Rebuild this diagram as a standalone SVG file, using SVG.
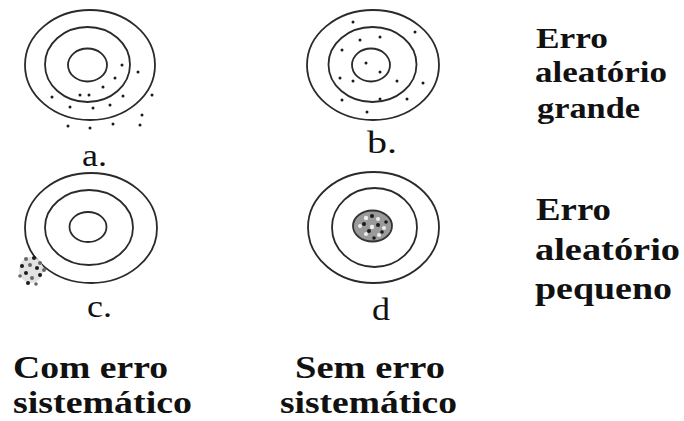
<svg xmlns="http://www.w3.org/2000/svg" width="684" height="421" viewBox="0 0 684 421">
<style>
.ring{fill:none;stroke:#2a2a2a;stroke-width:1.8}
.dot{fill:#1a1a1a}
.gdot{fill:#666}
.lab{font-family:"Liberation Serif","Times New Roman",serif;font-size:32px;fill:#111}
.big{font-family:"Liberation Serif","Times New Roman",serif;font-weight:bold;fill:#111}
</style>
<rect width="684" height="421" fill="#fff"/>
<g id="target-a">
<ellipse class="ring" cx="90" cy="65" rx="65" ry="55"/>
<ellipse class="ring" cx="87.5" cy="64.5" rx="42.5" ry="37.5"/>
<ellipse class="ring" cx="87.5" cy="65" rx="19.5" ry="16.5"/>
<g>
<circle class="dot" cx="122" cy="65" r="1.5"/>
<circle class="dot" cx="138" cy="72" r="1.5"/>
<circle class="dot" cx="115" cy="78" r="1.5"/>
<circle class="dot" cx="103" cy="87" r="1.5"/>
<circle class="dot" cx="52" cy="97" r="1.5"/>
<circle class="dot" cx="80" cy="95" r="1.5"/>
<circle class="dot" cx="89" cy="95" r="1.5"/>
<circle class="dot" cx="123" cy="96" r="1.5"/>
<circle class="dot" cx="152" cy="95" r="1.5"/>
<circle class="dot" cx="70" cy="107" r="1.5"/>
<circle class="dot" cx="93" cy="108" r="1.5"/>
<circle class="dot" cx="110" cy="105" r="1.5"/>
<circle class="dot" cx="142" cy="115" r="1.5"/>
<circle class="dot" cx="68" cy="126" r="1.5"/>
<circle class="dot" cx="90" cy="128" r="1.5"/>
<circle class="dot" cx="113" cy="124" r="1.5"/>
<circle class="dot" cx="140" cy="125" r="1.5"/>
</g>
<text class="lab" x="82" y="166" textLength="25" lengthAdjust="spacingAndGlyphs">a.</text>
</g>
<g id="target-b">
<ellipse class="ring" cx="373" cy="65" rx="66" ry="55"/>
<ellipse class="ring" cx="372.5" cy="64.5" rx="44" ry="37.5"/>
<ellipse class="ring" cx="371" cy="65" rx="19" ry="16.5"/>
<g>
<circle class="dot" cx="353" cy="22" r="1.5"/>
<circle class="dot" cx="415" cy="32" r="1.5"/>
<circle class="dot" cx="360" cy="40" r="1.5"/>
<circle class="dot" cx="380" cy="37" r="1.5"/>
<circle class="dot" cx="342" cy="50" r="1.5"/>
<circle class="dot" cx="366" cy="63" r="1.5"/>
<circle class="dot" cx="380" cy="72" r="1.5"/>
<circle class="dot" cx="340" cy="78" r="1.5"/>
<circle class="dot" cx="353" cy="81" r="1.5"/>
<circle class="dot" cx="397" cy="81" r="1.5"/>
<circle class="dot" cx="423" cy="83" r="1.5"/>
<circle class="dot" cx="342" cy="100" r="1.5"/>
<circle class="dot" cx="380" cy="99" r="1.5"/>
<circle class="dot" cx="407" cy="99" r="1.5"/>
<circle class="dot" cx="367" cy="112" r="1.5"/>
</g>
<text class="lab" x="367" y="153" textLength="30" lengthAdjust="spacingAndGlyphs">b.</text>
</g>
<g id="target-c">
<ellipse class="ring" cx="91" cy="228" rx="66" ry="55"/>
<ellipse class="ring" cx="89" cy="227.5" rx="44" ry="37.5"/>
<ellipse class="ring" cx="88" cy="227" rx="18.5" ry="15"/>
<g>
<ellipse cx="31" cy="270" rx="12" ry="13" fill="#e2e2e2"/>
<circle class="gdot" cx="26" cy="259" r="2"/>
<circle class="dot" cx="34" cy="258" r="2"/>
<circle class="gdot" cx="40" cy="263" r="2"/>
<circle class="dot" cx="22" cy="266" r="2"/>
<circle class="gdot" cx="30" cy="265" r="2"/>
<circle class="dot" cx="37" cy="268" r="2"/>
<circle class="gdot" cx="44" cy="270" r="2"/>
<circle class="dot" cx="26" cy="273" r="2"/>
<circle class="dot" cx="40" cy="275" r="2"/>
<circle class="gdot" cx="20" cy="276" r="1.8"/>
<circle class="gdot" cx="32" cy="278" r="2"/>
<circle class="dot" cx="28" cy="283" r="2"/>
<circle class="gdot" cx="36" cy="284" r="1.8"/>
</g>
<text class="lab" x="87" y="317" textLength="25" lengthAdjust="spacingAndGlyphs">c.</text>
</g>
<g id="target-d">
<ellipse class="ring" cx="373.5" cy="227.5" rx="65.5" ry="55.5"/>
<ellipse class="ring" cx="374.5" cy="227.5" rx="42.5" ry="39.5"/>
<g>
<ellipse cx="372.5" cy="226" rx="19.5" ry="15.5" fill="#9a9a9a" stroke="#333" stroke-width="1.8"/>
<circle fill="#eee" cx="366" cy="218" r="2.2"/>
<circle fill="#eee" cx="378" cy="219" r="2"/>
<circle fill="#eee" cx="360" cy="226" r="2"/>
<circle fill="#eee" cx="372" cy="227" r="2.2"/>
<circle fill="#eee" cx="384" cy="228" r="2"/>
<circle fill="#eee" cx="366" cy="234" r="2"/>
<circle fill="#eee" cx="379" cy="235" r="2"/>
<circle class="dot" cx="372" cy="216" r="2"/>
<circle class="dot" cx="364" cy="224" r="2"/>
<circle class="dot" cx="378" cy="225" r="2"/>
<circle class="dot" cx="386" cy="222" r="1.8"/>
<circle class="dot" cx="369" cy="231" r="2"/>
<circle class="dot" cx="382" cy="232" r="1.8"/>
<circle class="dot" cx="374" cy="238" r="1.8"/>
</g>
<text class="lab" x="372" y="320" textLength="18" lengthAdjust="spacingAndGlyphs">d</text>
</g>
<g id="label-grande">
<text class="big" font-size="30" x="536" y="48" textLength="72" lengthAdjust="spacingAndGlyphs">Erro</text>
<text class="big" font-size="30" x="535" y="82" textLength="132" lengthAdjust="spacingAndGlyphs">aleatório</text>
<text class="big" font-size="30" x="537" y="118" textLength="103" lengthAdjust="spacingAndGlyphs">grande</text>
</g>
<g id="label-pequeno">
<text class="big" font-size="32" x="536" y="220" textLength="75" lengthAdjust="spacingAndGlyphs">Erro</text>
<text class="big" font-size="32" x="535" y="260" textLength="145" lengthAdjust="spacingAndGlyphs">aleatório</text>
<text class="big" font-size="32" x="535" y="299" textLength="137" lengthAdjust="spacingAndGlyphs">pequeno</text>
</g>
<g id="label-com">
<text class="big" font-size="32" x="13" y="378" textLength="155" lengthAdjust="spacingAndGlyphs">Com erro</text>
<text class="big" font-size="32" x="13" y="413" textLength="179" lengthAdjust="spacingAndGlyphs">sistemático</text>
</g>
<g id="label-sem">
<text class="big" font-size="32" x="295" y="378" textLength="150" lengthAdjust="spacingAndGlyphs">Sem erro</text>
<text class="big" font-size="32" x="280" y="413" textLength="177" lengthAdjust="spacingAndGlyphs">sistemático</text>
</g>
<g id="connectors"/>
</svg>
